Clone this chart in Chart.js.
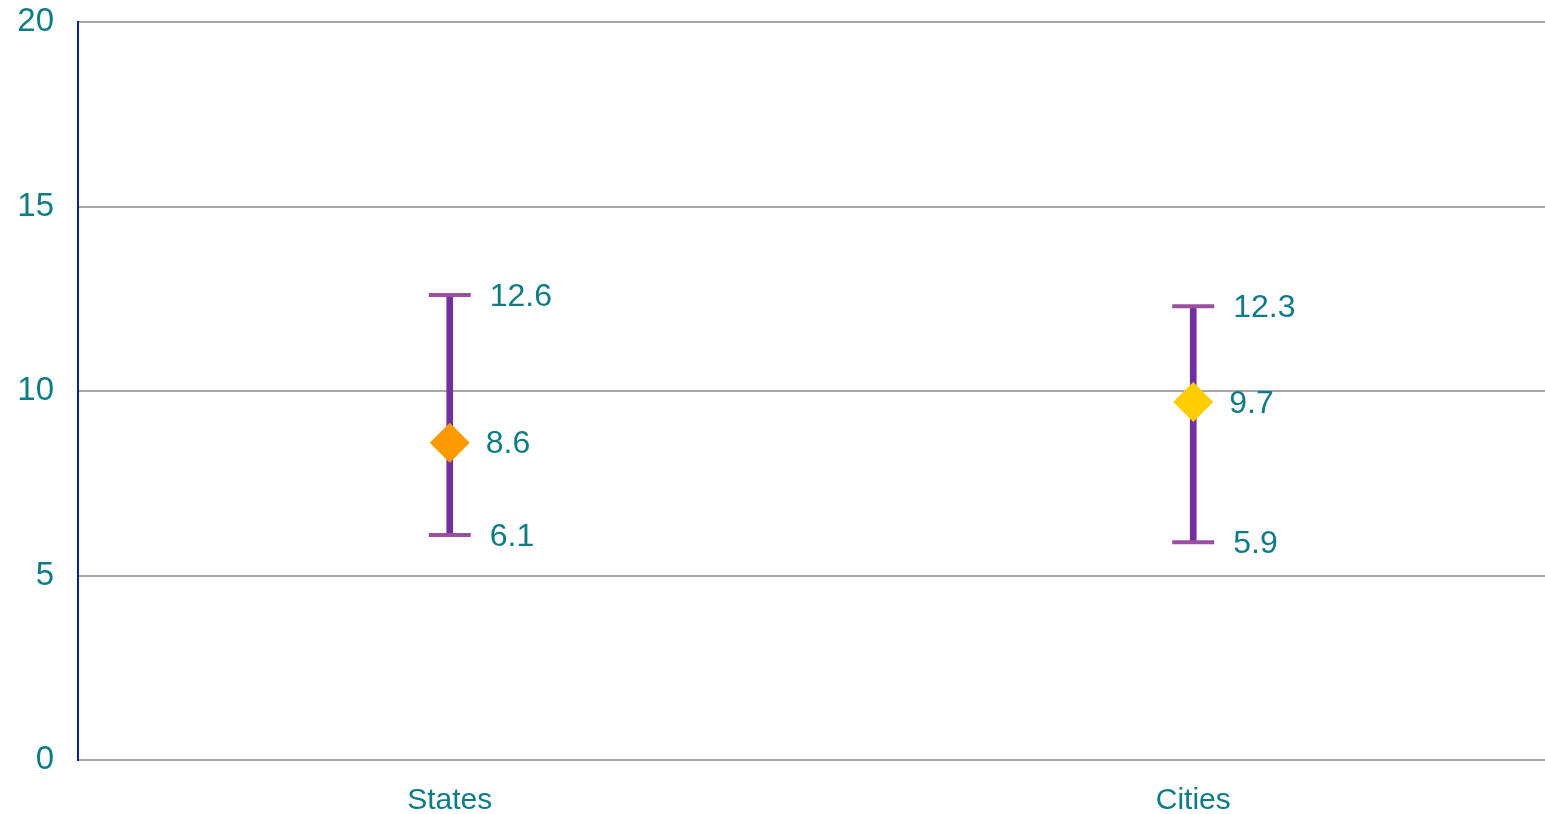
<!DOCTYPE html>
<html>
<head>
<meta charset="utf-8">
<script src="https://cdn.jsdelivr.net/npm/chart.js@4.4.1/dist/chart.umd.min.js"></script>
<style>
  html, body { margin: 0; padding: 0; background: #fff; overflow: hidden; }
  canvas { display: block; }
</style>
</head>
<body>
<canvas id="rangeChart" width="1565" height="814"></canvas>
<script>
const categories = ['States', 'Cities'];
const lowValues = [6.1, 5.9];
const meanValues = [8.6, 9.7];
const highValues = [12.6, 12.3];
const yTicks = [0, 5, 10, 15, 20];
const meanColors = ['#FF9900', '#FFCC00'];

const teal = '#0E7C86';
const fontFamily = '"Liberation Sans", Arial, sans-serif';

// writes each point's value just to the right of the marker
const valueLabels = {
    id: 'valueLabels',
    afterDatasetsDraw(chart) {
        const ctx = chart.ctx;
        ctx.save();
        ctx.font = '32px ' + fontFamily;
        ctx.fillStyle = teal;
        ctx.textAlign = 'left';
        ctx.textBaseline = 'middle';
        chart.data.datasets.forEach((ds, i) => {
            if (ds.labelGap === undefined) return;
            const meta = chart.getDatasetMeta(i);
            meta.data.forEach((pt, j) => {
                ctx.fillText(ds.data[j].toFixed(1), pt.x + ds.labelGap, pt.y + 2);
            });
        });
        ctx.restore();
    }
};

const ctx = document.getElementById('rangeChart').getContext('2d');
new Chart(ctx, {
    type: 'bar',
    data: {
        labels: categories,
        datasets: [
            {
                // vertical range line
                type: 'bar',
                data: lowValues.map((v, i) => [v, highValues[i]]),
                backgroundColor: '#7030A0',
                barThickness: 6,
                order: 3
            },
            {
                type: 'line',
                data: highValues,
                showLine: false,
                pointStyle: 'line',
                pointRadius: 21,
                pointHoverRadius: 21,
                pointBorderWidth: 4,
                pointBorderColor: '#9B4FA0',
                labelGap: 40,
                order: 2
            },
            {
                type: 'line',
                data: lowValues,
                showLine: false,
                pointStyle: 'line',
                pointRadius: 21,
                pointHoverRadius: 21,
                pointBorderWidth: 4,
                pointBorderColor: '#9B4FA0',
                labelGap: 40,
                order: 2
            },
            {
                type: 'line',
                data: meanValues,
                showLine: false,
                pointStyle: 'rectRot',
                pointRadius: 20,
                pointHoverRadius: 20,
                pointBorderWidth: 0,
                pointBackgroundColor: meanColors,
                labelGap: 36,
                order: 1
            }
        ]
    },
    options: {
        responsive: false,
        animation: false,
        layout: { autoPadding: false, padding: { top: 22, left: 0, right: 0, bottom: 0 } },
        plugins: {
            legend: { display: false },
            tooltip: { enabled: false }
        },
        scales: {
            x: {
                grid: { display: false, drawTicks: false },
                border: { display: false },
                ticks: {
                    color: teal,
                    padding: 26,
                    font: { family: fontFamily, size: 30, lineHeight: 1 }
                },
                afterFit: (scale) => {
                    scale.height = 54;
                    scale.paddingLeft = 0;
                    scale.paddingRight = 0;
                }
            },
            y: {
                min: yTicks[0],
                max: yTicks[yTicks.length - 1],
                afterBuildTicks: (axis) => { axis.ticks = yTicks.map(v => ({ value: v })); },
                grid: { color: '#A6A6A6', lineWidth: 2, drawTicks: false },
                border: { color: '#0A2299', width: 2 },
                ticks: {
                    color: teal,
                    padding: 24,
                    font: { family: fontFamily, size: 33 }
                },
                afterFit: (scale) => {
                    scale.width = 78;
                    scale.paddingTop = 0;
                    scale.paddingBottom = 0;
                }
            }
        }
    },
    plugins: [valueLabels]
});
</script>
</body>
</html>
